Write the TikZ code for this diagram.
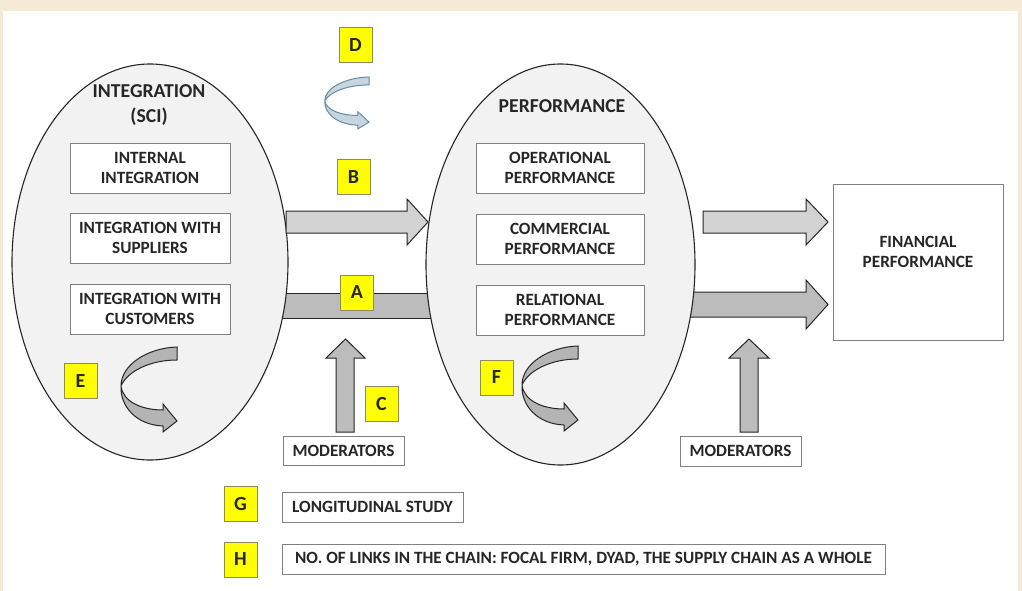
\documentclass[tikz,border=0pt]{standalone}
\usepackage{fontspec}
\setmainfont{Carlito}
\usetikzlibrary{shapes.geometric}

\definecolor{beige}{RGB}{245,234,214}
\definecolor{ovalgray}{RGB}{242,242,242}
\definecolor{ink}{RGB}{38,38,38}
\definecolor{boxedge}{RGB}{128,128,128}
\definecolor{tagyellow}{RGB}{255,255,0}
\definecolor{tagedge}{RGB}{140,140,100}
\definecolor{lightarrow}{RGB}{210,210,210}
\definecolor{darkarrow}{RGB}{188,188,188}
\definecolor{curlgray}{RGB}{180,180,180}
\definecolor{curlblue}{RGB}{200,212,222}
\definecolor{curledge}{RGB}{100,140,170}

\tikzset{
  oval/.style={ellipse, draw=ink, fill=ovalgray, line width=1.1pt, inner sep=0pt},
  box/.style={draw=boxedge, fill=white, line width=0.9pt, align=center, text=ink,
    font=\bfseries\fontsize{17.2}{20.5}\selectfont, minimum width=160pt, minimum height=50pt, inner sep=2pt},
  tag/.style={draw=tagedge, fill=tagyellow, line width=0.9pt, text=ink,
    font=\bfseries\fontsize{20}{22}\selectfont, minimum width=33pt, minimum height=35pt, inner sep=0pt},
  blockarrow/.style={draw=ink, line width=1pt, line join=miter},
  curl/.pic={
    \path[pic actions] (0,0) .. controls (-30,1) and (-56,18) .. (-56,39)
      .. controls (-54,55) and (-35,63) .. (-14,63) -- (-14,57) -- (0,74) -- (-14,85) -- (-14,79)
      .. controls (-40,78) and (-57,60) .. (-56,39)
      .. controls (-50,25) and (-28,13) .. (0,13) -- cycle;
  }
}

\begin{document}
\begin{tikzpicture}[x=1pt, y=-1pt]
            \useasboundingbox (0,0) rectangle (1022,591);
            \fill[beige] (0,0) rectangle (1022,591);
            \fill[white] (3,11) rectangle (1018,591);

            \filldraw[blockarrow, fill=darkarrow] (280,293) rectangle (435,318);
            \filldraw[blockarrow, fill=darkarrow] (680,292) -- (806,292) -- (806,280) -- (828,304.5)
                -- (806,329) -- (806,317) -- (680,317) -- cycle;

            \node[oval, minimum width=276pt, minimum height=396pt] (intg) at (150,262) {};
            \node[oval, minimum width=269pt, minimum height=401pt] (perf) at (560.5,264.5) {};

            \node[text=ink, align=center, font=\bfseries\fontsize{19.7}{25}\selectfont] (intgtitle) at (149,105) {INTEGRATION\\(SCI)};
            \node[text=ink, font=\bfseries\fontsize{19.7}{25}\selectfont] (perftitle) at (562,106) {PERFORMANCE};

            \node[box] (internal) at (150,168) {INTERNAL\\INTEGRATION};
            \node[box] (suppliers) at (150,238) {INTEGRATION WITH\\SUPPLIERS};
            \node[box] (customers) at (150,309) {INTEGRATION WITH\\CUSTOMERS};

            \node[box, minimum width=168pt] (operational) at (560,168) {OPERATIONAL\\PERFORMANCE};
            \node[box, minimum width=168pt] (commercial) at (560,239) {COMMERCIAL\\PERFORMANCE};
            \node[box, minimum width=168pt] (relational) at (560,310) {RELATIONAL\\PERFORMANCE};

            \node[box, minimum width=170pt, minimum height=156pt] (fin) at (918,262) {};
            \node[text=ink, align=center, font=\bfseries\fontsize{17.2}{20.5}\selectfont] (fintext)
                at ([yshift=10pt]fin.center) {FINANCIAL\\PERFORMANCE};

            \filldraw[blockarrow, fill=lightarrow] (286,211) -- (407,211) -- (407,199) -- (428,222)
                -- (407,245) -- (407,233) -- (286,233) -- cycle;
            \filldraw[blockarrow, fill=lightarrow] (703,211) -- (806,211) -- (806,199) -- (828,222)
                -- (806,245) -- (806,233) -- (703,233) -- cycle;

            \node[box, minimum width=121pt, minimum height=29pt] (modl) at (343.5,450.5) {MODERATORS};
            \node[box, minimum width=121pt, minimum height=30pt] (modr) at (740.5,451) {MODERATORS};
            \filldraw[blockarrow, fill=darkarrow] (336,432) -- (336,358) -- (326,358) -- (345.5,339)
                -- (365,358) -- (354,358) -- (354,432) -- cycle;
            \filldraw[blockarrow, fill=darkarrow] (740,432) -- (740,358) -- (729,358) -- (749,339)
                -- (769,358) -- (758,358) -- (758,432) -- cycle;

            \node[box, minimum width=181pt, minimum height=30pt] (longit) at (372.5,507) {LONGITUDINAL STUDY};
            \node[box, minimum width=603pt, minimum height=30pt] (links) at (583.5,559)
                {NO. OF LINKS IN THE CHAIN: FOCAL FIRM, DYAD, THE SUPPLY CHAIN AS A WHOLE};

            \pic[fill=curlblue, draw=curledge, line width=1pt, xscale=0.79, yscale=0.61] at (369,77) {curl};
            \pic[fill=curlgray, draw=ink, line width=1pt] at (177,347) {curl};
            \pic[fill=curlgray, draw=ink, line width=1pt] at (578,346) {curl};

            \node[tag] (tagD) at (355.5,45) {D};
            \node[tag] (tagB) at (353.5,177) {B};
            \node[tag] (tagA) at (357,292.5) {A};
            \node[tag] (tagC) at (381.5,404) {C};
            \node[tag] (tagE) at (80.5,381) {E};
            \node[tag] (tagF) at (496.5,377.5) {F};
            \node[tag] (tagG) at (240.5,504) {G};
            \node[tag] (tagH) at (240.5,559.5) {H};
        \end{tikzpicture}
\end{document}
